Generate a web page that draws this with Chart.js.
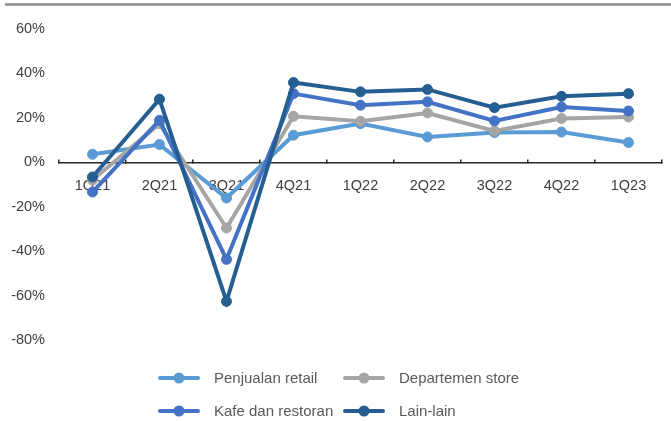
<!DOCTYPE html>
<html>
<head>
<meta charset="utf-8">
<script src="https://cdn.jsdelivr.net/npm/chart.js@4/dist/chart.umd.min.js"></script>
<style>
  html, body { margin: 0; padding: 0; background: #fff; }
  #wrap { width: 671px; height: 421px; }
</style>
</head>
<body>
<div id="wrap"><canvas id="growth"></canvas></div>
<script>
const quarters = ["1Q21", "2Q21", "3Q21", "4Q21", "1Q22", "2Q22", "3Q22", "4Q22", "1Q23"];

const retail = [3.6, 8.0, -16.1, 12.2, 17.4, 11.4, 13.4, 13.6, 8.9];
const deptStore = [-8.0, 17.4, -29.6, 20.7, 18.5, 22.2, 14.1, 19.7, 20.4];
const cafe = [-13.4, 18.9, -43.7, 30.9, 25.7, 27.2, 18.6, 24.9, 23.1];
const others = [-6.6, 28.4, -62.6, 35.9, 31.7, 32.8, 24.6, 29.7, 30.9];

const yMin = -80;
const yMax = 60;
const yStep = 20;

const font = "'Liberation Sans', Arial, sans-serif";

const series = [
  { label: "Penjualan retail", data: retail, color: "#5B9BD5", order: 4 },
  { label: "Departemen store", data: deptStore, color: "#A5A5A5", order: 3 },
  { label: "Kafe dan restoran", data: cafe, color: "#4472C4", order: 2 },
  { label: "Lain-lain", data: others, color: "#255E91", order: 1 },
];

// thin grey rule across the top of the figure
const topRule = {
  id: "topRule",
  beforeDraw(chart) {
    const ctx = chart.ctx;
    ctx.save();
    ctx.strokeStyle = "#8c8c8c";
    ctx.lineWidth = 2.5;
    ctx.beginPath();
    ctx.moveTo(5, 4.5);
    ctx.lineTo(chart.width, 4.5);
    ctx.stroke();
    ctx.restore();
  },
};

// 2x2 legend grid under the plot
const gridLegend = {
  id: "gridLegend",
  afterDraw(chart) {
    const ctx = chart.ctx;
    const cols = [160, 345];
    const rows = [378, 411];
    ctx.save();
    chart.data.datasets.forEach((ds, i) => {
      const x = cols[i % 2];
      const y = rows[Math.floor(i / 2)];
      ctx.strokeStyle = ds.borderColor;
      ctx.lineWidth = 4;
      ctx.lineCap = "round";
      ctx.beginPath();
      ctx.moveTo(x, y);
      ctx.lineTo(x + 38, y);
      ctx.stroke();
      ctx.fillStyle = ds.borderColor;
      ctx.beginPath();
      ctx.arc(x + 19, y, 5.5, 0, Math.PI * 2);
      ctx.fill();
      ctx.fillStyle = "#595959";
      ctx.font = "15px " + font;
      ctx.textBaseline = "middle";
      ctx.textAlign = "left";
      ctx.fillText(ds.label, x + 54, y + 1);
    });
    ctx.restore();
  },
};

new Chart(document.getElementById("growth"), {
  type: "line",
  data: {
    labels: quarters,
    datasets: series.map((s) => ({
      label: s.label,
      data: s.data,
      order: s.order,
      borderColor: s.color,
      backgroundColor: s.color,
      pointBackgroundColor: s.color,
      pointBorderColor: s.color,
      borderWidth: 4,
      pointRadius: 5,
      pointBorderWidth: 1,
      tension: 0,
      fill: false,
    })),
  },
  options: {
    responsive: true,
    maintainAspectRatio: false,
    animation: false,
    layout: { padding: { top: 29, bottom: 81, left: 0, right: 9 } },
    plugins: {
      legend: { display: false },
      tooltip: { enabled: false },
    },
    scales: {
      x: {
        type: "category",
        offset: true,
        position: { y: 0 },
        grid: {
          offset: true,
          drawOnChartArea: false,
          drawTicks: true,
          tickLength: -4,
          color: "#262626",
          lineWidth: 1.5,
        },
        border: { display: true, color: "#262626", width: 1.5 },
        ticks: {
          color: "#404040",
          font: { family: font, size: 14.5 },
          padding: 19,
          maxRotation: 0,
          autoSkip: false,
        },
      },
      y: {
        min: yMin,
        max: yMax,
        grid: { display: false, drawTicks: false },
        border: { display: false },
        ticks: {
          stepSize: yStep,
          padding: 14,
          color: "#404040",
          font: { family: font, size: 14.5 },
          callback: (v) => v + "%",
        },
        afterFit: (scale) => {
          scale.width = 59;
        },
      },
    },
  },
  plugins: [topRule, gridLegend],
});
</script>
</body>
</html>
